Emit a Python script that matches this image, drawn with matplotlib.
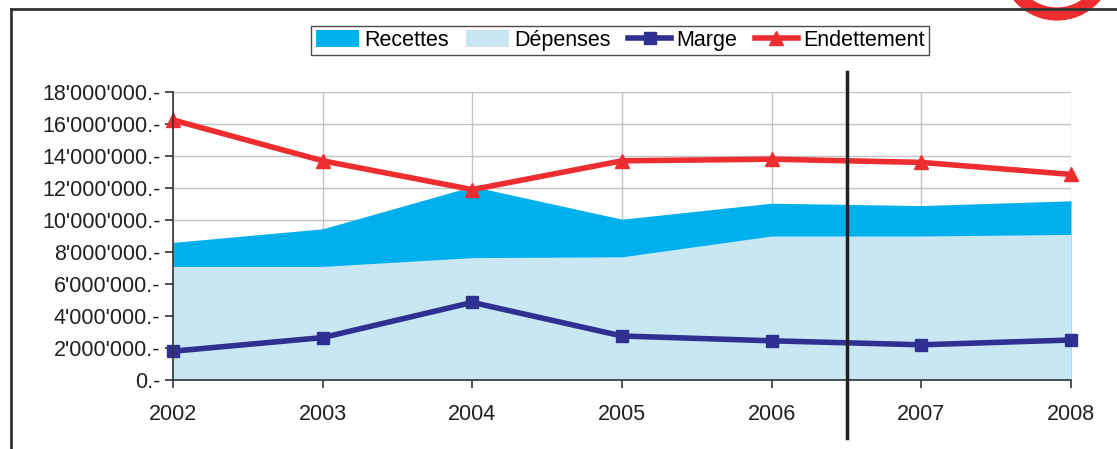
import matplotlib
matplotlib.use("Agg")
import matplotlib.pyplot as plt
from matplotlib.patches import Patch, Circle
from matplotlib.lines import Line2D
from matplotlib.ticker import FuncFormatter, MultipleLocator

plt.rcParams['font.family'] = ['Liberation Sans', 'DejaVu Sans']

years = [2002, 2003, 2004, 2005, 2006, 2007, 2008]
recettes = [8.6e6, 9.45e6, 12.1e6, 10.05e6, 11.05e6, 10.9e6, 11.2e6]
depenses = [7.1e6, 7.1e6, 7.65e6, 7.7e6, 9.0e6, 9.0e6, 9.1e6]
marge = [1.8e6, 2.65e6, 4.85e6, 2.75e6, 2.45e6, 2.2e6, 2.5e6]
endettement = [16.25e6, 13.7e6, 11.9e6, 13.7e6, 13.8e6, 13.6e6, 12.85e6]
split_year = 2006.5

c_rec = '#00B0EC'
c_dep = '#C9E7F3'
c_marge = '#2E3192'
c_endet = '#ED2D2F'

fig = plt.figure(figsize=(11.17, 4.49), dpi=100)
ax = fig.add_axes([173/1117, 1-380/449, (1071-173)/1117, (380-92)/449])

ax.fill_between(years, 0, recettes, color=c_rec, lw=0, zorder=1)
ax.fill_between(years, 0, depenses, color=c_dep, lw=0, zorder=1.1)
ax.plot(years, marge, color=c_marge, lw=4, marker='s', ms=9, clip_on=False, zorder=4)
ax.plot(years, endettement, color=c_endet, lw=4, marker='^', ms=10, clip_on=False, zorder=4)

ax.set_xlim(2002, 2008)
ax.set_ylim(0, 18e6)
ax.xaxis.set_major_locator(MultipleLocator(1))
ax.yaxis.set_major_locator(MultipleLocator(2e6))
ax.yaxis.set_major_formatter(FuncFormatter(lambda v, p: f"{int(round(v)):,}".replace(",", "'") + ".-"))
ax.xaxis.set_major_formatter(FuncFormatter(lambda v, p: f"{int(round(v))}"))
ax.grid(True, color='#C4C4C4', lw=1, zorder=0)
ax.set_axisbelow(True)
for s in ['top', 'right']:
    ax.spines[s].set_visible(False)
for s in ['left', 'bottom']:
    ax.spines[s].set_color('#333333')
    ax.spines[s].set_linewidth(1.2)
    ax.spines[s].set_zorder(5)
ax.tick_params(axis='both', direction='out', length=6, width=1.2, color='#333333',
               labelsize=15.5, labelcolor='#231F20')
ax.tick_params(axis='y', pad=3)
ax.tick_params(axis='x', pad=11)

ax.axvline(split_year, ymin=-0.2, ymax=1.07, color='#231F20', lw=2.5, clip_on=False, zorder=6)

handles = [
    Patch(facecolor=c_rec, edgecolor='none'),
    Patch(facecolor=c_dep, edgecolor='none'),
    Line2D([], [], color=c_marge, lw=4, marker='s', ms=9),
    Line2D([], [], color=c_endet, lw=4, marker='^', ms=10),
]
labels = ['Recettes', 'Dépenses', 'Marge', 'Endettement']
leg = fig.legend(handles, labels, ncol=4, loc='center', bbox_to_anchor=(620/1117, 1-40.5/449),
                 fontsize=15.5, frameon=True, fancybox=False, handlelength=2.0, handletextpad=0.25,
                 columnspacing=0.8, borderpad=0.2, handleheight=0.8)
leg.get_frame().set_edgecolor('#231F20')
leg.get_frame().set_linewidth(1.0)

# outer frame
fig.add_artist(Line2D([11/1117, 1.0], [1-9/449, 1-9/449], color='#333333', lw=2, transform=fig.transFigure))
fig.add_artist(Line2D([11/1117, 11/1117], [1-9/449, 0], color='#333333', lw=2, transform=fig.transFigure))

# red ring decoration (top-right)
ring_ax = fig.add_axes([0, 0, 1, 1], facecolor='none')
ring_ax.set_xlim(0, 1117)
ring_ax.set_ylim(449, 0)
ring_ax.axis('off')
ring_ax.add_patch(Circle((1057, -36), 50, fill=False, edgecolor=c_endet, lw=9.5))

fig.savefig('out.png', dpi=100)
